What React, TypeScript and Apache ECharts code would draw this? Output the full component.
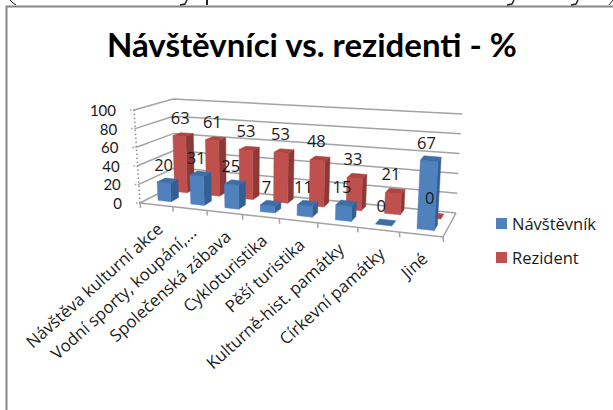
import React, { useEffect, useRef } from "react";
import * as echarts from "echarts";

const titleText = "Návštěvníci vs. rezidenti - %";
const categories = [
  "Návštěva kulturní akce",
  "Vodní sporty, koupání,...",
  "Společenská zábava",
  "Cykloturistika",
  "Pěší turistika",
  "Kulturně-hist. památky",
  "Církevní památky",
  "Jiné",
];
const visitorName = "Návštěvník";
const residentName = "Rezident";
const visitors = [20, 31, 25, 7, 11, 15, 0, 67];
const residents = [63, 61, 53, 53, 48, 33, 21, 0];
const yTicks = [0, 20, 40, 60, 80, 100];

const GRID = { left: 140, top: 110, width: 303, height: 93 };
type P = [number, number];
const homography = (q: P[]) => {
  const [p0, p1, p2, p3] = q;
  const dx1 = p1[0] - p2[0], dx2 = p3[0] - p2[0], sx = p0[0] - p1[0] + p2[0] - p3[0];
  const dy1 = p1[1] - p2[1], dy2 = p3[1] - p2[1], sy = p0[1] - p1[1] + p2[1] - p3[1];
  const den = dx1 * dy2 - dx2 * dy1;
  const g = (sx * dy2 - dx2 * sy) / den, h = (dx1 * sy - sx * dy1) / den;
  const a = p1[0] - p0[0] + g * p1[0], b = p3[0] - p0[0] + h * p3[0], c = p0[0];
  const d = p1[1] - p0[1] + g * p1[1], e = p3[1] - p0[1] + h * p3[1], f = p0[1];
  return (u: number, v: number): P => {
    const w = g * u + h * v + 1;
    return [(a * u + b * v + c) / w, (d * u + e * v + f) / w];
  };
};
const floor = homography([[140, 203], [443, 237], [456, 213], [175, 185]]);
const lean: P[] = [[-6, -93], [6, -104], [6, -99], [-2, -86]];
const bilerp = (u: number, d: number, k: 0 | 1) =>
  (1 - u) * (1 - d) * lean[0][k] + u * (1 - d) * lean[1][k] + u * d * lean[2][k] + (1 - u) * d * lean[3][k];
// u: along categories, d: depth (0 front, 1 back), t: height as a share of the axis
const proj = (u: number, d: number, t: number): P => {
  const a = floor(u, d);
  return [a[0] + bilerp(u, d, 0) * t, a[1] + bilerp(u, d, 1) * t];
};

const WALL = "#a3a3a3";
const FONT = "Open Sans";
const uOf = (api: any, i: number) => (api.coord([i, 0])[0] - GRID.left) / GRID.width;
const tOf = (api: any, i: number, v: number) => (api.coord([i, 0])[1] - api.coord([i, v])[1]) / GRID.height;

const poly = (points: P[], fill: string) => ({
  type: "polygon",
  shape: { points },
  style: { fill, stroke: fill, lineWidth: 0.5 },
});

const barSeries = (name: string, values: number[], d0: number, d1: number, front: string, side: string, top: string) => ({
  type: "custom",
  name,
  coordinateSystem: "cartesian2d",
  itemStyle: { color: front },
  data: values.map((v, i) => [i, v]),
  renderItem: (_: any, api: any) => {
    const i = api.value(0), v = api.value(1);
    const uc = uOf(api, i);
    const hw = (api.size([1, 0])[0] / GRID.width) * 0.2;
    const u0 = uc - hw + 0.004, u1 = uc + hw + 0.004;
    const t = tOf(api, i, v);
    const children: any[] = [];
    if (v > 0) {
      children.push(poly([proj(u1, d0, 0), proj(u1, d1, 0), proj(u1, d1, t), proj(u1, d0, t)], side));
      children.push(poly([proj(u0, d0, 0), proj(u1, d0, 0), proj(u1, d0, t), proj(u0, d0, t)], front));
    }
    children.push(poly([proj(u0, d0, t), proj(u1, d0, t), proj(u1, d1, t), proj(u0, d1, t)], top));
    return { type: "group", children };
  },
});

const labelSeries = (name: string, values: number[], d: number, dx: number, dy: number) => ({
  type: "custom",
  coordinateSystem: "cartesian2d",
  silent: true,
  z: 5,
  data: values.map((v, i) => [i, v]),
  renderItem: (_: any, api: any) => {
    const i = api.value(0), v = api.value(1);
    const [x, y] = proj(uOf(api, i), d, tOf(api, i, v));
    return {
      type: "text",
      x: x + dx,
      y: y + dy,
      style: { text: String(v), font: `16.5px '${FONT}'`, fill: "#1a1a1a", align: "center", verticalAlign: "middle" },
    };
  },
});

const option: any = {
  animation: false,
  backgroundColor: "#ffffff",
  title: {
    text: titleText,
    left: 102,
    top: 22,
    textStyle: { fontFamily: "Lato", fontWeight: "bold", fontSize: 33, color: "#000000" },
  },
  legend: {
    orient: "vertical",
    left: 491,
    top: 210,
    itemWidth: 11,
    itemHeight: 11,
    itemGap: 17,
    data: [
      { name: visitorName, icon: "rect" },
      { name: residentName, icon: "rect" },
    ],
    textStyle: { fontFamily: FONT, fontSize: 16.5, color: "#1a1a1a" },
  },
  grid: GRID,
  xAxis: { type: "category", data: categories, show: false },
  yAxis: {
    type: "value",
    min: 0,
    max: 100,
    interval: 20,
    axisLine: { show: false },
    axisTick: { show: false },
    splitLine: { show: false },
    axisLabel: { show: false },
  },
  graphic: [
    { type: "polyline", shape: { points: [[6.5, 410], [6.5, 6.5], [613, 6.5]] }, style: { stroke: "#868686", lineWidth: 2, fill: "none" } },
    { type: "polyline", shape: { points: [[10, 0], [13, 3], [16, 5]] }, style: { stroke: "#222", lineWidth: 1, fill: "none" } },
    { type: "polyline", shape: { points: [[187, 0], [185, 4], [180, 5]] }, style: { stroke: "#222", lineWidth: 1.5, fill: "none" } },
    { type: "polyline", shape: { points: [[207, 0], [207, 5]] }, style: { stroke: "#222", lineWidth: 2, fill: "none" } },
    { type: "polyline", shape: { points: [[514, 0], [512, 4], [507, 5]] }, style: { stroke: "#222", lineWidth: 1.5, fill: "none" } },
    { type: "polyline", shape: { points: [[578, 0], [576, 4], [571, 5]] }, style: { stroke: "#222", lineWidth: 1.5, fill: "none" } },
    { type: "polyline", shape: { points: [[613, 0], [609, 5]] }, style: { stroke: "#222", lineWidth: 1, fill: "none" } },
  ],
  series: [
    {
      type: "custom",
      coordinateSystem: "cartesian2d",
      silent: true,
      z: 1,
      data: yTicks.map((t) => [0, t]),
      renderItem: (_: any, api: any) => {
        const v = api.value(1);
        const t = tOf(api, 0, v);
        const a = proj(0, 0, t), b = proj(0, 1, t), c = proj(1, 1, t);
        const children: any[] = [
          { type: "polyline", shape: { points: [a, b, c] }, style: { stroke: WALL, lineWidth: 1.5, fill: "none" } },
          { type: "line", shape: { x1: a[0] - 4, y1: a[1], x2: a[0], y2: a[1] }, style: { stroke: WALL, lineWidth: 1.5, lineDash: [1.5, 1.5] } },
          {
            type: "text",
            x: a[0] - 18,
            y: a[1],
            style: { text: String(v), font: "15px Lato", lineHeight: 16, fill: "#1a1a1a", align: "right", verticalAlign: "middle" },
          },
        ];
        if (t === 0) {
          const l0 = proj(0, 0, 0), l1 = proj(0, 0, 1);
          children.push({
            type: "line",
            shape: { x1: l0[0], y1: l0[1], x2: l1[0], y2: l1[1] },
            style: { stroke: "#8c8c8c", lineWidth: 1.5, lineDash: [1.5, 2.5] },
          });
          const f0 = proj(0, 0, 0), f1 = proj(1, 0, 0), f2 = proj(1, 1, 0);
          children.push({ type: "polyline", shape: { points: [f0, f1, f2] }, style: { stroke: WALL, lineWidth: 1.5, fill: "none" } });
        }
        return { type: "group", children };
      },
    },
    {
      type: "custom",
      coordinateSystem: "cartesian2d",
      silent: true,
      z: 1,
      data: [...categories.map((_, i) => [i, 0]), [categories.length, 0]],
      renderItem: (_: any, api: any) => {
        const i = api.value(0);
        const step = api.size([1, 0])[0] / GRID.width;
        const [x, y] = proj(i * step, 0, 0);
        return { type: "line", shape: { x1: x, y1: y, x2: x + 0.5, y2: y + 5 }, style: { stroke: WALL, lineWidth: 1.5 } };
      },
    },
    barSeries(residentName, residents, 0.68, 0.9, "#c0504d", "#8c3836", "#b04441"),
    barSeries(visitorName, visitors, 0.2, 0.42, "#4f81bd", "#335f92", "#3e6ea6"),
    labelSeries(residentName, residents, 0.85, -4, -16.5),
    labelSeries(visitorName, visitors, 0.31, -3, -16.5),
    {
      type: "custom",
      coordinateSystem: "cartesian2d",
      silent: true,
      z: 5,
      data: categories.map((_, i) => [i, 0]),
      renderItem: (_: any, api: any) => {
        const i = api.value(0);
        const [x, y] = proj(uOf(api, i), 0, 0);
        return {
          type: "text",
          x: x + 3.5,
          y: y + 21,
          rotation: (42 * Math.PI) / 180,
          style: { text: categories[i], font: `16.8px '${FONT}'`, fill: "#1a1a1a", align: "right", verticalAlign: "middle" },
        };
      },
    },
  ],
};

export default function App() {
  const ref = useRef<HTMLDivElement>(null);
  useEffect(() => {
    const chart = echarts.init(ref.current!, undefined, { renderer: "svg" });
    chart.setOption(option);
    return () => chart.dispose();
  }, []);
  return <div ref={ref} style={{ position: "fixed", left: 0, top: 0, width: 613, height: 410 }} />;
}
